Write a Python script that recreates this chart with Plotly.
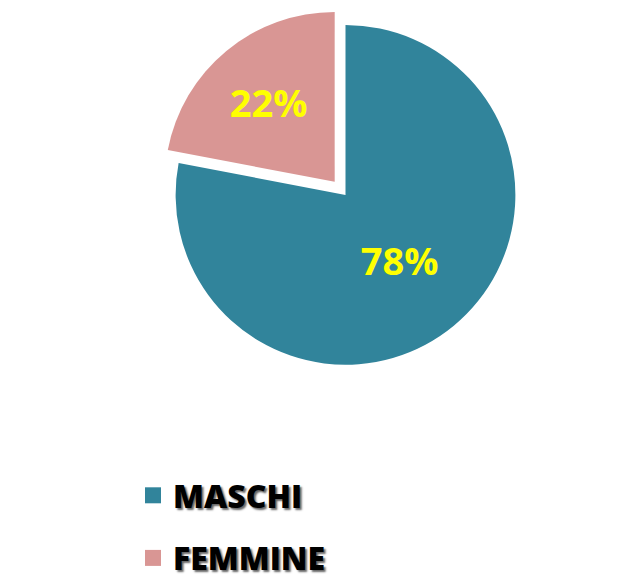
import plotly.graph_objects as go

labels = ["MASCHI", "FEMMINE"]
values = [78, 22]
colors = ["#31849B", "#D99694"]
pulls = [0, 0.1]

fig = go.Figure()
fig.add_trace(go.Pie(
    labels=labels,
    values=values,
    sort=False,
    direction="clockwise",
    rotation=0,
    pull=pulls,
    marker=dict(colors=colors, line=dict(width=0)),
    textinfo="percent",
    texttemplate="%{percent:.0%}",
    textposition="inside",
    insidetextorientation="horizontal",
    textfont=dict(family="Open Sans", size=38, color="#FFFF00", weight="bold"),
    domain=dict(x=[0.08, 1.0], y=[0.35, 1.0]),
    showlegend=False,
))

# legend entries built from the same labels / colours
for i, (lab, col) in enumerate(zip(labels, colors)):
    fig.add_trace(go.Scatter(
        x=[None], y=[None], mode="markers", name=lab,
        marker=dict(symbol="square", size=21, color=col),
        legendgroup=lab, showlegend=True,
    ))

fig.update_layout(
    width=625, height=578,
    margin=dict(l=0, r=0, t=0, b=0),
    paper_bgcolor="white",
    plot_bgcolor="white",
    xaxis=dict(visible=False),
    yaxis=dict(visible=False),
    legend=dict(
        x=0.2, y=0.2, xanchor="left", yanchor="top",
        orientation="v",
        font=dict(family="Open Sans", size=32, color="black", weight=800,
                  shadow="2px 2px 2px #666"),
        itemsizing="trace",
        itemwidth=30,
        tracegroupgap=18,
    ),
)

fig.write_html("out.html")
